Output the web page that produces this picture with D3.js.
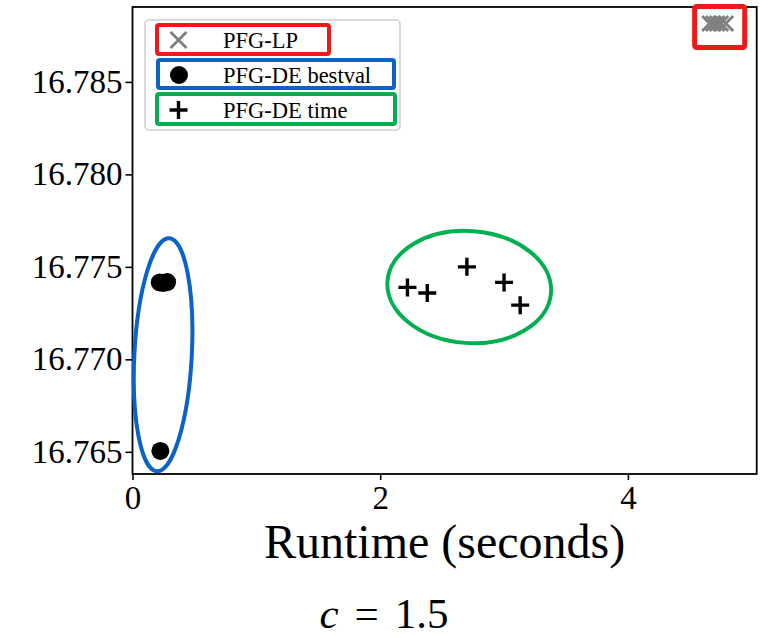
<!DOCTYPE html>
<html>
<head>
<meta charset="utf-8">
<script src="https://cdn.jsdelivr.net/npm/d3@7"></script>
<style>
  html, body { margin: 0; padding: 0; background: #fff; }
  svg { display: block; }
  text { font-family: "Liberation Serif", "DejaVu Serif", serif; fill: #000; }
</style>
</head>
<body>
<svg id="chart" width="768" height="638"></svg>
<script>
// Runtime vs objective value for the three solvers
const lpRuntime      = [4.66, 4.69, 4.72, 4.75, 4.79];
const lpValue        = [16.78816, 16.78816, 16.78816, 16.78816, 16.78816];
const bestvalRuntime = [0.22, 0.25, 0.28, 0.225];
const bestvalValue   = [16.77416, 16.77413, 16.77418, 16.76505];
const timeRuntime    = [2.22, 2.38, 2.70, 3.00, 3.13];
const timeValue      = [16.77389, 16.77359, 16.77500, 16.77416, 16.77293];

const xTicks = [0, 2, 4];
const yTicks = [16.765, 16.770, 16.775, 16.780, 16.785];
const legendLabels = ["PFG-LP", "PFG-DE bestval", "PFG-DE time"];

const svg = d3.select("#chart");
const plot = { left: 132.5, top: 7, right: 756.7, bottom: 474 };

const x = d3.scaleLinear().domain([0, 5.04]).range([plot.left, plot.right]);
const y = d3.scaleLinear().domain([16.7638, 16.78905]).range([plot.bottom, plot.top]);

// axes
const xAxis = d3.axisBottom(x).tickValues(xTicks).tickFormat(d3.format("d"))
  .tickSizeInner(6).tickSizeOuter(0).tickPadding(5);
const yAxis = d3.axisLeft(y).tickValues(yTicks).tickFormat(d3.format(".3f"))
  .tickSizeInner(7).tickSizeOuter(0).tickPadding(3);

const gx = svg.append("g").attr("transform", `translate(0,${plot.bottom})`).call(xAxis);
const gy = svg.append("g").attr("transform", `translate(${plot.left},0)`).call(yAxis);
[gx, gy].forEach(g => {
  g.select(".domain").remove();
  g.selectAll(".tick line").attr("stroke", "#000").attr("stroke-width", 1.6);
  g.selectAll(".tick text").attr("font-size", 33).attr("font-family", "Liberation Serif");
});
gx.selectAll(".tick text").attr("dy", "0.74em");

// frame
svg.append("rect")
  .attr("x", plot.left).attr("y", plot.top)
  .attr("width", plot.right - plot.left).attr("height", plot.bottom - plot.top)
  .attr("fill", "none").attr("stroke", "#000").attr("stroke-width", 1.8);

// marker painters
function drawX(g, cx, cy, s) {
  g.append("path")
    .attr("d", `M${cx - s},${cy - s}L${cx + s},${cy + s}M${cx - s},${cy + s}L${cx + s},${cy - s}`)
    .attr("stroke", "#808080").attr("stroke-width", 2.8).attr("fill", "none");
}
function drawPlus(g, cx, cy, s) {
  g.append("path")
    .attr("d", `M${cx - s},${cy}L${cx + s},${cy}M${cx},${cy - s}L${cx},${cy + s}`)
    .attr("stroke", "#000").attr("stroke-width", 3.4).attr("fill", "none");
}
function drawDot(g, cx, cy, r) {
  g.append("circle").attr("cx", cx).attr("cy", cy).attr("r", r).attr("fill", "#000");
}

const marks = svg.append("g");
lpRuntime.forEach((v, i) => drawX(marks, x(v), y(lpValue[i]), 7.5));
bestvalRuntime.forEach((v, i) => drawDot(marks, x(v), y(bestvalValue[i]), 9));
timeRuntime.forEach((v, i) => drawPlus(marks, x(v), y(timeValue[i]), 9));

// legend
const legend = svg.append("g");
legend.append("rect")
  .attr("x", 145).attr("y", 20).attr("width", 255).attr("height", 110).attr("rx", 4)
  .attr("fill", "#fff").attr("fill-opacity", 0.85)
  .attr("stroke", "#d0d0d0").attr("stroke-width", 1.6);
const rowY = [40, 75, 110];
drawX(legend, 178.5, rowY[0], 8);
drawDot(legend, 179, rowY[1], 9);
drawPlus(legend, 178.5, rowY[2], 9);
legendLabels.forEach((t, i) => {
  legend.append("text").attr("x", 223).attr("y", rowY[i] + 7.5)
    .attr("font-size", 22.5).text(t);
});

// highlight boxes around legend entries and clusters
const hl = svg.append("g").attr("fill", "none");
const hlRed = "#f01818", hlBlue = "#0a64c8", hlGreen = "#00b050";
hl.append("rect").attr("x", 157).attr("y", 25).attr("width", 172).attr("height", 29).attr("rx", 2)
  .attr("stroke", hlRed).attr("stroke-width", 4);
hl.append("rect").attr("x", 158).attr("y", 60).attr("width", 236).attr("height", 28).attr("rx", 2)
  .attr("stroke", hlBlue).attr("stroke-width", 4);
hl.append("rect").attr("x", 157).attr("y", 94).attr("width", 238).attr("height", 30).attr("rx", 2)
  .attr("stroke", hlGreen).attr("stroke-width", 4);

// red box around the PFG-LP cluster
const lpExt = d3.extent(lpRuntime);
hl.append("rect")
  .attr("x", x(lpExt[0]) - 15).attr("y", y(lpValue[0]) - 17)
  .attr("width", x(lpExt[1]) - x(lpExt[0]) + 34).attr("height", 41).attr("rx", 2)
  .attr("stroke", hlRed).attr("stroke-width", 5);

// ellipse around the bestval points
const bvCx = x(0.247), bvCy = y(16.77025);
hl.append("ellipse")
  .attr("cx", bvCx).attr("cy", bvCy).attr("rx", 28.7).attr("ry", 116.7)
  .attr("transform", `rotate(3,${bvCx},${bvCy})`)
  .attr("stroke", hlBlue).attr("stroke-width", 4);

// ellipse around the time points
const tCx = x(2.719), tCy = y(16.77391);
hl.append("ellipse")
  .attr("cx", tCx).attr("cy", tCy).attr("rx", 82).attr("ry", 56)
  .attr("transform", `rotate(4,${tCx},${tCy})`)
  .attr("stroke", hlGreen).attr("stroke-width", 4);

// axis title and caption
svg.append("text").attr("x", (plot.left + plot.right) / 2).attr("y", 558)
  .attr("text-anchor", "middle").attr("font-size", 48).text("Runtime (seconds)");
const cap = svg.append("text").attr("x", 384).attr("y", 628)
  .attr("text-anchor", "middle").attr("font-size", 43);
cap.append("tspan").attr("font-style", "italic").text("c");
cap.append("tspan").attr("dx", 16).text("=");
cap.append("tspan").attr("dx", 16).text("1.5");
</script>
</body>
</html>
